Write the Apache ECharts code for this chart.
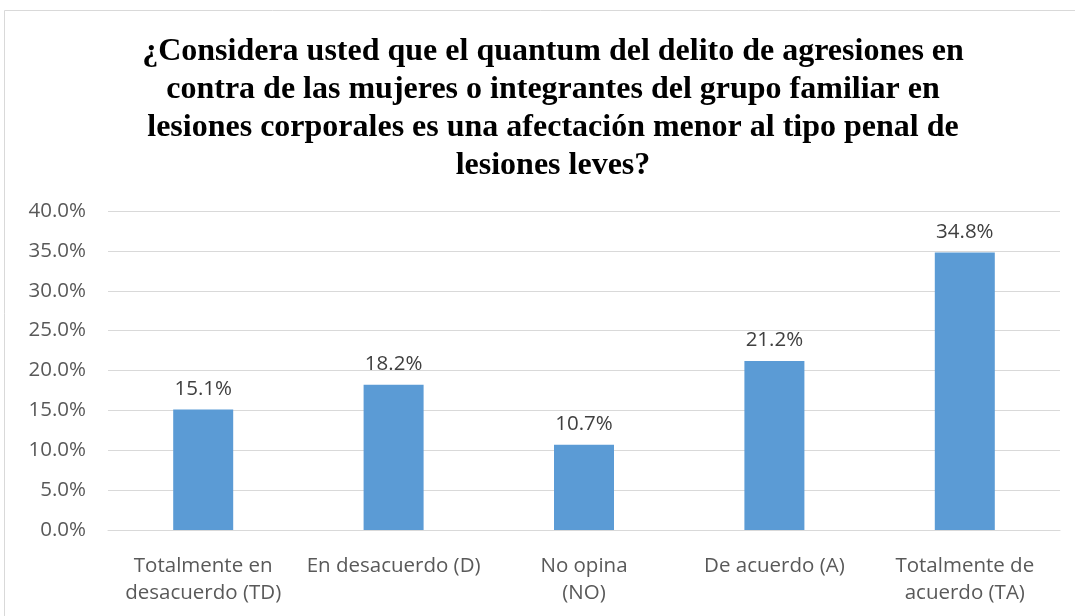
<!DOCTYPE html>
<html>
<head>
<meta charset="utf-8">
<script src="https://cdn.jsdelivr.net/npm/echarts@6/dist/echarts.min.js"></script>
<style>
  html, body { margin: 0; padding: 0; background: #fff; }
  #chart { width: 1075px; height: 616px; }
</style>
</head>
<body>
<div id="chart"></div>
<script>
// datos del gráfico
const categories = [
  'Totalmente en\ndesacuerdo (TD)',
  'En desacuerdo (D)',
  'No opina\n(NO)',
  'De acuerdo (A)',
  'Totalmente de\nacuerdo (TA)'
]
const values = [15.1, 18.2, 10.7, 21.2, 34.8]
const titleText = '¿Considera usted que el quantum del delito de agresiones en\ncontra de las mujeres o integrantes del grupo familiar en\nlesiones corporales es una afectación menor al tipo penal de\nlesiones leves?'

const chart = echarts.init(document.getElementById('chart'))

chart.setOption({
  animation: false,
  backgroundColor: '#fff',
  graphic: [{
    type: 'rect',
    shape: { x: 4.5, y: 10.5, width: 1100, height: 700 },
    style: { fill: 'none', stroke: '#d9d9d9', lineWidth: 1 }
  }],
  title: {
    text: titleText,
    left: 548,
    top: 28,
    textAlign: 'center',
    textStyle: {
      fontFamily: 'Liberation Serif',
      fontWeight: 'bold',
      fontSize: 32,
      lineHeight: 38,
      color: '#000'
    }
  },
  grid: {
    left: 108,
    right: 15,
    top: 211,
    bottom: 86
  },
  xAxis: {
    type: 'category',
    data: categories,
    axisTick: { show: false },
    axisLine: { lineStyle: { color: '#d9d9d9' } },
    axisLabel: {
      color: '#595959',
      fontFamily: 'Open Sans',
      fontSize: 20.5,
      lineHeight: 27,
      margin: 23,
      interval: 0
    }
  },
  yAxis: {
    type: 'value',
    min: 0,
    max: 40,
    interval: 5,
    axisLine: { show: false },
    axisTick: { show: false },
    splitLine: { lineStyle: { color: '#d9d9d9', width: 1 } },
    axisLabel: {
      color: '#595959',
      fontFamily: 'Open Sans',
      fontSize: 20.5,
      margin: 22,
      formatter: v => v.toFixed(1) + '%'
    }
  },
  series: [{
    type: 'bar',
    data: values,
    barWidth: 60,
    itemStyle: { color: '#5b9bd5' },
    label: {
      show: true,
      position: 'top',
      distance: 10,
      color: '#404040',
      fontFamily: 'Open Sans',
      fontSize: 20.5,
      formatter: p => p.value.toFixed(1) + '%'
    }
  }]
})
</script>
</body>
</html>
